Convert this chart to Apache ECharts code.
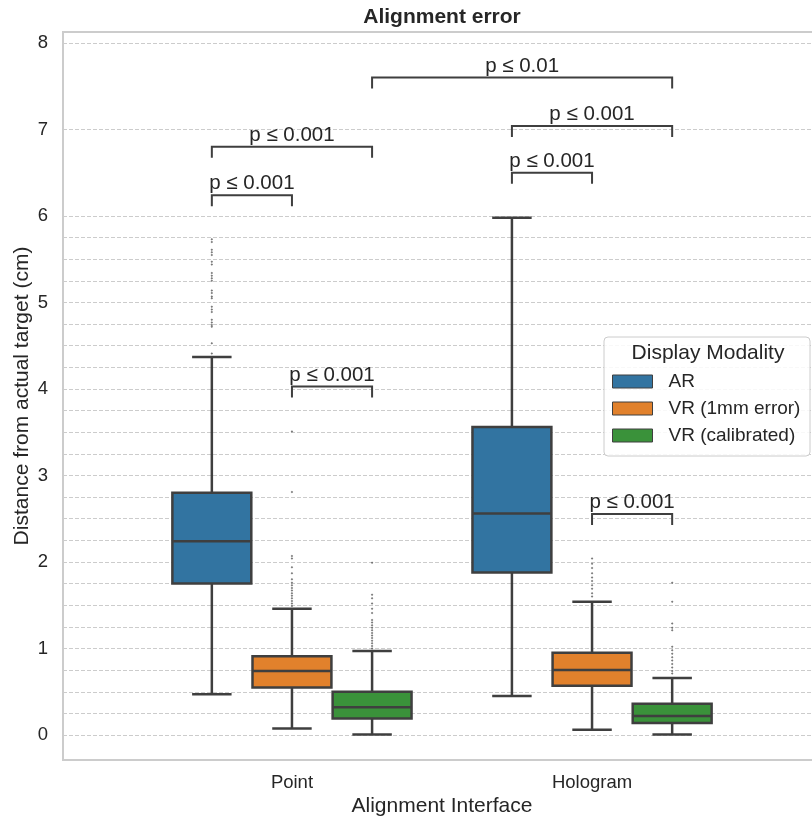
<!DOCTYPE html>
<html>
<head>
<meta charset="utf-8">
<script src="https://cdn.jsdelivr.net/npm/echarts@6/dist/echarts.min.js"></script>
<style>
  html, body { margin: 0; padding: 0; background: #fff; }
  #chart { width: 812px; height: 820px; }
</style>
</head>
<body>
<div id="chart"></div>
<script>
// categories on the x axis and hue groups
const categories = ['Point', 'Hologram'];
const modalities = ['AR', 'VR (1mm error)', 'VR (calibrated)'];
const colors = ['#3274a1', '#e1812c', '#3a923a'];

// box stats per category: [low whisker, q1, median, q3, high whisker]
const arStats = [[0.47, 1.75, 2.24, 2.80, 4.37], [0.45, 1.88, 2.56, 3.56, 5.98]];
const vrErrStats = [[0.075, 0.55, 0.74, 0.91, 1.46], [0.06, 0.57, 0.75, 0.95, 1.54]];
const vrCalStats = [[0.005, 0.19, 0.32, 0.50, 0.97], [0.005, 0.14, 0.22, 0.36, 0.66]];

// fliers per category
const arOutliers = [
  [5.73, 5.70, 5.61, 5.58, 5.55, 5.47, 5.44, 5.34, 5.31, 5.28, 5.25, 5.14, 5.11, 5.07, 5.05, 4.95, 4.92, 4.89, 4.80, 4.77, 4.74, 4.72, 4.53, 4.41],
  []
];
const vrErrOutliers = [
  [3.51, 2.81, 2.07, 2.04, 1.94, 1.87, 1.80, 1.76, 1.73, 1.70, 1.67, 1.64, 1.61, 1.58, 1.55, 1.52, 1.49],
  [2.04, 1.98, 1.93, 1.87, 1.82, 1.78, 1.73, 1.69, 1.64, 1.60]
];
const vrCalOutliers = [
  [1.99, 1.62, 1.58, 1.52, 1.46, 1.41, 1.33, 1.30, 1.27, 1.24, 1.21, 1.18, 1.15, 1.12, 1.09, 1.06, 1.03, 1.00],
  [1.76, 1.54, 1.29, 1.24, 1.21, 1.02, 0.98, 0.94, 0.90, 0.86, 0.82, 0.78, 0.74, 0.71]
];

// significance brackets: [category, hue, category, hue, height, label]
const brackets = [
  [0, 0, 0, 1, 6.24, 'p ≤ 0.001'],
  [0, 0, 0, 2, 6.80, 'p ≤ 0.001'],
  [0, 1, 0, 2, 4.03, 'p ≤ 0.001'],
  [1, 0, 1, 1, 6.50, 'p ≤ 0.001'],
  [1, 0, 1, 2, 7.04, 'p ≤ 0.001'],
  [0, 2, 1, 2, 7.60, 'p ≤ 0.01'],
  [1, 1, 1, 2, 2.555, 'p ≤ 0.001']
];

const yLabels = [0, 1, 2, 3, 4, 5, 6, 7, 8];
const yGrid = [0, 0.25, 0.5, 0.75, 1, 1.25, 1.5, 1.75, 2, 2.25, 2.5, 2.75, 3, 3.25, 3.5, 3.75,
  4, 4.25, 4.5, 4.75, 5, 5.25, 5.5, 5.75, 6, 7, 8];

const hueOffset = [-0.267, 0, 0.267];
const boxWidth = 0.263;
const lineColor = '#3f3f3f';
const textColor = '#262626';
const font = 'Liberation Sans, Arial, sans-serif';

const allStats = [arStats, vrErrStats, vrCalStats];
const allOutliers = [arOutliers, vrErrOutliers, vrCalOutliers];

function renderBox(params, api) {
  const x = api.value(0);
  const lo = api.coord([x, api.value(1)]);
  const q1 = api.coord([x, api.value(2)]);
  const med = api.coord([x, api.value(3)]);
  const q3 = api.coord([x, api.value(4)]);
  const hi = api.coord([x, api.value(5)]);
  const w = api.size([boxWidth, 0])[0];
  const cx = lo[0];
  const st = { stroke: lineColor, lineWidth: 2.5 };
  return {
    type: 'group',
    children: [
      { type: 'line', shape: { x1: cx, y1: lo[1], x2: cx, y2: q1[1] }, style: st },
      { type: 'line', shape: { x1: cx, y1: q3[1], x2: cx, y2: hi[1] }, style: st },
      { type: 'line', shape: { x1: cx - w / 4, y1: lo[1], x2: cx + w / 4, y2: lo[1] }, style: st },
      { type: 'line', shape: { x1: cx - w / 4, y1: hi[1], x2: cx + w / 4, y2: hi[1] }, style: st },
      { type: 'rect', shape: { x: cx - w / 2, y: q3[1], width: w, height: q1[1] - q3[1] },
        style: { fill: api.visual('color'), stroke: lineColor, lineWidth: 2.5 } },
      { type: 'line', shape: { x1: cx - w / 2, y1: med[1], x2: cx + w / 2, y2: med[1] }, style: st }
    ]
  };
}

function renderBracket(params, api) {
  const a = api.coord([api.value(0), api.value(2)]);
  const b = api.coord([api.value(1), api.value(2)]);
  const tick = 11;
  return {
    type: 'group',
    children: [
      { type: 'polyline',
        shape: { points: [[a[0], a[1] + tick], a, b, [b[0], b[1] + tick]] },
        style: { stroke: lineColor, lineWidth: 2, fill: null } },
      { type: 'text',
        style: { x: (a[0] + b[0]) / 2, y: a[1] - 1, text: brackets[params.dataIndex][5],
          align: 'center', verticalAlign: 'bottom', fill: textColor, fontSize: 20.5, fontFamily: font } }
    ]
  };
}

const series = modalities.map((name, h) => ({
  name: name,
  type: 'custom',
  renderItem: renderBox,
  itemStyle: { color: colors[h], borderColor: lineColor, borderWidth: 1 },
  encode: { x: 0, y: [1, 2, 3, 4, 5] },
  data: allStats[h].map((s, c) => [c + hueOffset[h]].concat(s)),
  z: 3
}));

const flierData = [];
allOutliers.forEach((perCat, h) => {
  perCat.forEach((vals, c) => {
    vals.forEach(v => flierData.push([c + hueOffset[h], v]));
  });
});

series.push({
  name: 'fliers',
  type: 'scatter',
  symbol: 'diamond',
  symbolSize: 2.5,
  itemStyle: { color: '#555', opacity: 0.8 },
  data: flierData,
  z: 2,
  silent: true
});

series.push({
  name: 'brackets',
  type: 'custom',
  renderItem: renderBracket,
  encode: { x: [0, 1], y: 2 },
  data: brackets.map(b => [b[0] + hueOffset[b[1]], b[2] + hueOffset[b[3]], b[4]]),
  z: 4,
  silent: true
});

const chart = echarts.init(document.getElementById('chart'));
chart.setOption({
  backgroundColor: '#fff',
  animation: false,
  textStyle: { fontFamily: font },
  grid: {
    left: 63, top: 32, right: -9, bottom: 60,
    outerBoundsMode: 'none',
    containLabel: false,
    show: true, borderColor: '#cccccc', borderWidth: 2, backgroundColor: '#fff'
  },
  xAxis: {
    type: 'value',
    min: -0.763,
    max: 1.763,
    axisLine: { show: false },
    axisTick: { show: false },
    splitLine: { show: false },
    axisLabel: {
      customValues: [0, 1],
      formatter: v => categories[Math.round(v)],
      fontSize: 18.5, color: textColor, margin: 13, fontFamily: font
    },
    name: 'Alignment Interface',
    nameLocation: 'middle',
    nameGap: 36,
    nameMoveOverlap: false,
    nameTextStyle: { fontSize: 21, color: textColor, fontFamily: font }
  },
  yAxis: {
    type: 'value',
    min: -0.289,
    max: 8.127,
    axisLine: { show: false },
    axisTick: { show: false, customValues: yGrid },
    axisLabel: { customValues: yLabels, fontSize: 18.5, color: textColor, margin: 15, fontFamily: font },
    splitLine: { show: true, lineStyle: { color: '#cccccc', width: 1, type: [4, 2] } },
    name: 'Distance from actual target (cm)',
    nameLocation: 'middle',
    nameGap: 30,
    nameMoveOverlap: false,
    nameTextStyle: { fontSize: 21, color: textColor, fontFamily: font }
  },
  legend: {
    data: modalities,
    orient: 'vertical',
    left: 612,
    top: 372,
    padding: 0,
    itemGap: 8,
    itemWidth: 40,
    itemHeight: 13,
    icon: 'rect',
    itemStyle: { borderColor: lineColor, borderWidth: 1 },
    textStyle: { fontSize: 19, color: textColor, fontFamily: font, padding: [0, 0, 0, 11] },
    selectedMode: false,
    z: 60
  },
  graphic: [
    { type: 'text', x: 442, y: 17, z: 60,
      style: { text: 'Alignment error', fontSize: 21, fontWeight: 'bold', fill: textColor,
        fontFamily: font, align: 'center', verticalAlign: 'middle' } },
    { type: 'rect', z: 50,
      shape: { x: 604, y: 337, width: 206, height: 119, r: 4 },
      style: { fill: 'rgba(255,255,255,0.85)', stroke: '#cccccc', lineWidth: 1 } },
    { type: 'text', z: 60,
      style: { x: 708, y: 353, text: 'Display Modality', fontSize: 21, fill: textColor,
        fontFamily: font, align: 'center', verticalAlign: 'middle' } }
  ],
  series: series
});
</script>
</body>
</html>
